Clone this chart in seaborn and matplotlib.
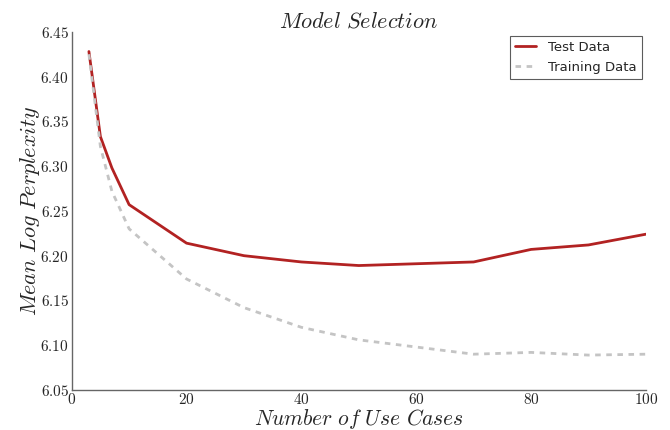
import matplotlib
matplotlib.use("Agg")
import matplotlib.pyplot as plt
import seaborn as sns
import pandas as pd
from matplotlib.ticker import FuncFormatter

x_cases = [3, 5, 7, 10, 20, 30, 40, 50, 70, 80, 90, 100]
test_data = [6.428, 6.333, 6.298, 6.257, 6.214, 6.200, 6.193, 6.189, 6.193, 6.207, 6.212, 6.224]
train_data = [6.425, 6.322, 6.272, 6.230, 6.174, 6.142, 6.120, 6.106, 6.090, 6.092, 6.089, 6.090]

sns.set_style("white")
plt.rcParams['font.family'] = ['DejaVu Sans']
plt.rcParams['mathtext.fontset'] = 'cm'

df = pd.DataFrame({"x": x_cases * 2,
                   "y": test_data + train_data,
                   "series": ["Test Data"] * len(x_cases) + ["Training Data"] * len(x_cases)})

fig, ax = plt.subplots(figsize=(6.7, 4.3), dpi=100)
fig.subplots_adjust(left=0.107, right=0.964, top=0.926, bottom=0.093)

sns.lineplot(data=df, x="x", y="y", hue="series", style="series",
             palette={"Test Data": "#b22222", "Training Data": "#c4c4c4"},
             dashes={"Test Data": "", "Training Data": (2, 2)},
             linewidth=2, ax=ax)

ax.set_xlim(0, 100)
ax.set_ylim(6.05, 6.45)
ax.set_xticks([0, 20, 40, 60, 80, 100])
ax.set_yticks([6.05, 6.10, 6.15, 6.20, 6.25, 6.30, 6.35, 6.40, 6.45])
ax.xaxis.set_major_formatter(FuncFormatter(lambda v, p: r"$%d$" % v))
ax.yaxis.set_major_formatter(FuncFormatter(lambda v, p: r"$%.2f$" % v))
ax.tick_params(direction="in", length=5, width=1, color="#555555", labelsize=11, pad=2)
ax.tick_params(axis="x", pad=1.5)

for s in ["top", "right"]:
    ax.spines[s].set_visible(False)
for s in ["left", "bottom"]:
    ax.spines[s].set_color("#666666")
    ax.spines[s].set_linewidth(1)

ax.set_title(r"$Model\ Selection$", fontsize=16, pad=3)
ax.set_xlabel(r"$Number\ of\ Use\ Cases$", fontsize=15.5)
ax.set_ylabel(r"$Mean\ Log\ Perplexity$", fontsize=16)
ax.xaxis.set_label_coords(0.5, -0.081)
ax.xaxis.label.set_va("center")
ax.yaxis.set_label_coords(-0.073, 0.5)
ax.yaxis.label.set_va("center")

leg = ax.legend(loc="upper right", fontsize=9.5, frameon=True, fancybox=False,
                borderaxespad=0.3, handlelength=1.6, handletextpad=0.9)
leg.get_frame().set_edgecolor("#333333")
leg.get_frame().set_linewidth(0.8)

fig.savefig("out.png", dpi=100)
